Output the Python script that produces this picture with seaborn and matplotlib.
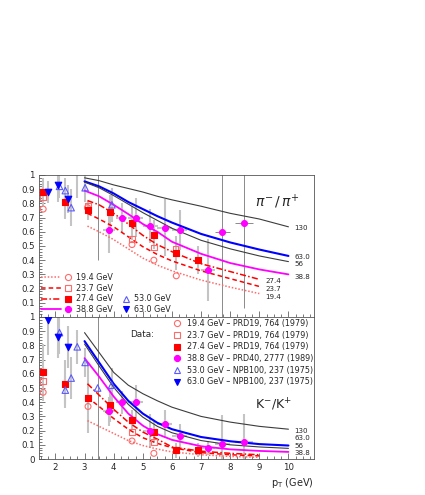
import matplotlib
matplotlib.use("Agg")
import matplotlib.pyplot as plt
from matplotlib.lines import Line2D
from matplotlib.legend_handler import HandlerBase
from matplotlib.ticker import MultipleLocator
import seaborn as sns

# ---------------- data ----------------
# theory curves
pt_hi = [3.0, 3.5, 4.0, 4.5, 5.0, 5.5, 6.0, 7.0, 8.0, 9.0, 10.0]
pt_lo = [3.1, 3.5, 4.0, 4.5, 5.0, 5.5, 6.0, 7.0, 8.0, 9.0]

pi_130 = [0.98, 0.96, 0.93, 0.905, 0.88, 0.85, 0.825, 0.78, 0.73, 0.69, 0.635]
pi_630 = [0.955, 0.92, 0.87, 0.81, 0.76, 0.71, 0.665, 0.585, 0.525, 0.475, 0.43]
pi_560 = [0.95, 0.91, 0.855, 0.795, 0.735, 0.68, 0.625, 0.54, 0.48, 0.43, 0.39]
pi_388 = [0.89, 0.85, 0.79, 0.725, 0.655, 0.6, 0.53, 0.445, 0.38, 0.335, 0.30]
pi_274 = [0.82, 0.79, 0.73, 0.655, 0.575, 0.51, 0.46, 0.375, 0.32, 0.265]
pi_237 = [0.73, 0.69, 0.635, 0.565, 0.495, 0.44, 0.395, 0.325, 0.27, 0.215]
pi_194 = [0.64, 0.60, 0.545, 0.48, 0.415, 0.365, 0.325, 0.26, 0.21, 0.165]

k_130 = [0.89, 0.75, 0.61, 0.52, 0.46, 0.41, 0.365, 0.30, 0.26, 0.23, 0.21]
k_630 = [0.83, 0.68, 0.53, 0.41, 0.32, 0.255, 0.21, 0.155, 0.125, 0.105, 0.095]
k_560 = [0.81, 0.655, 0.505, 0.385, 0.295, 0.23, 0.185, 0.13, 0.10, 0.085, 0.075]
k_388 = [0.71, 0.58, 0.44, 0.32, 0.235, 0.175, 0.135, 0.09, 0.068, 0.057, 0.05]
k_274 = [0.53, 0.45, 0.35, 0.26, 0.19, 0.14, 0.085, 0.055, 0.04, 0.03]
k_237 = [0.435, 0.37, 0.285, 0.21, 0.15, 0.11, 0.08, 0.045, 0.03, 0.022]
k_194 = [0.27, 0.23, 0.18, 0.13, 0.095, 0.07, 0.05, 0.03, 0.018, 0.012]

# measured ratios, pi-/pi+
pi194_x = [1.58, 3.10, 4.63, 5.38, 6.15]
pi194_y = [0.76, 0.77, 0.51, 0.40, 0.29]
pi237_x = [1.57, 3.12, 4.63, 5.38, 6.13]
pi237_y = [0.84, 0.78, 0.55, 0.49, 0.48]
pi274_x = [1.58, 2.34, 3.12, 3.87, 4.63, 5.38, 6.15, 6.91]
pi274_y = [0.88, 0.81, 0.75, 0.74, 0.66, 0.58, 0.45, 0.40]
pi274_e = [0.10, 0.12, 0.07, 0.12, 0.12, 0.10, 0.12, 0.10]
pi388_x = [3.84, 4.27, 4.75, 5.26, 5.75, 6.26, 7.24, 7.73, 8.48]
pi388_y = [0.61, 0.70, 0.70, 0.64, 0.63, 0.61, 0.33, 0.60, 0.66]
pi388_e = [0.16, 0.10, 0.14, 0.12, 0.20, 0.14, 0.22, 0.60, 0.60]
pi388_xe = [0.20, 0.20, 0.25, 0.25, 0.25, 0.25, 0.25, 0.25, 0.30]
pi530_x = [2.14, 2.34, 2.54, 2.75, 3.02, 3.45, 3.94]
pi530_y = [0.92, 0.89, 0.77, 1.04, 0.91, 1.10, 0.79]
pi530_e = [0.08, 0.09, 0.13, 0.20, 0.10, 0.70, 0.12]
pi630_x = [1.76, 2.10, 2.44]
pi630_y = [0.88, 0.93, 0.83]
pi630_e = [0.08, 0.12, 0.10]

# measured ratios, K-/K+
k194_x = [1.58, 3.12, 4.63, 5.38]
k194_y = [0.47, 0.37, 0.127, 0.04]
k237_x = [1.57, 4.63, 5.38]
k237_y = [0.55, 0.19, 0.12]
k274_x = [1.58, 2.34, 3.12, 3.87, 4.63, 5.38, 6.15, 6.91]
k274_y = [0.61, 0.53, 0.43, 0.38, 0.275, 0.19, 0.06, 0.063]
k274_e = [0.20, 0.17, 0.25, 0.12, 0.07, 0.08, 0.05, 0.05]
k388_x = [3.84, 4.27, 4.75, 5.26, 5.75, 6.26, 7.24, 7.73, 8.48]
k388_y = [0.335, 0.40, 0.40, 0.197, 0.245, 0.165, 0.08, 0.108, 0.117]
k388_e = [0.10, 0.08, 0.12, 0.12, 0.10, 0.08, 0.05, 0.20, 0.20]
k388_xe = [0.20, 0.20, 0.25, 0.25, 0.25, 0.25, 0.25, 0.25, 0.30]
k530_x = [2.14, 2.34, 2.54, 2.75, 3.02, 3.45, 3.93]
k530_y = [0.89, 0.485, 0.57, 0.79, 0.68, 0.50, 0.52]
k530_e = [0.15, 0.10, 0.15, 0.12, 0.10, 0.60, 0.12]
k630_x = [1.76, 2.10, 2.44]
k630_y = [0.98, 0.86, 0.79]
k630_e = [0.25, 0.15, 0.15]

energies = ["19.4", "23.7", "27.4", "38.8", "53.0", "63.0"]
refs = ["PRD19, 764 (1979)", "PRD19, 764 (1979)", "PRD19, 764 (1979)",
        "PRD40, 2777 (1989)", "NPB100, 237 (1975)", "NPB100, 237 (1975)"]
curve_names_hi = ["130", "63.0", "56", "38.8"]
curve_names_lo = ["27.4", "23.7", "19.4"]
# heights of the curve labels beside the line ends
pi_label_hi_y = [0.625, 0.425, 0.37, 0.282]
pi_label_lo_y = [0.25, 0.196, 0.143]
k_label_hi_y = [0.20, 0.148, 0.094, 0.04]
top_ylabels = ["0.1", "0.2", "0.3", "0.4", "0.5", "0.6", "0.7", "0.8", "0.9", "1"]
bot_ylabels = ["0", "0.1", "0.2", "0.3", "0.4", "0.5", "0.6", "0.7", "0.8", "0.9", "1"]
xlabels = ["2", "3", "4", "5", "6", "7", "8", "9", "10"]

# ---------------- style ----------------
sns.set_style("ticks")
plt.rcParams["font.family"] = ["DejaVu Sans"]
FS = 5.8
FS_CURVE = 5.1

RED = "#ff0000"
PINK = "#ff6a6a"
MAG = "#ff00ff"
BLUE = "#0000ff"
LBLUE = "#5a5aff"
DARK = "#3c3c3c"

curve_style = {
    "130": dict(color=DARK, lw=0.8, linestyle="-"),
    "63.0": dict(color=BLUE, lw=1.5, linestyle="-"),
    "56": dict(color=DARK, lw=0.8, linestyle="-"),
    "38.8": dict(color=MAG, lw=1.3, linestyle="-"),
    "27.4": dict(color=RED, lw=1.1, linestyle=(0, (4, 1.5, 1, 1.5))),
    "23.7": dict(color=RED, lw=1.1, linestyle=(0, (3, 2))),
    "19.4": dict(color=PINK, lw=1.1, linestyle=(0, (1, 1.2))),
}
mark_style = {
    "19.4": dict(marker="o", face="none", edge=PINK, s=18),
    "23.7": dict(marker="s", face="none", edge=PINK, s=16),
    "27.4": dict(marker="s", face=RED, edge=RED, s=16),
    "38.8": dict(marker="o", face=MAG, edge=MAG, s=18),
    "53.0": dict(marker="^", face="none", edge=LBLUE, s=22),
    "63.0": dict(marker="v", face=BLUE, edge=BLUE, s=22),
}

fig = plt.figure(figsize=(4.25, 4.95), dpi=100)
ax_top = fig.add_axes([0.092, 0.3596, 0.647, 0.2869])
ax_bot = fig.add_axes([0.092, 0.0727, 0.647, 0.2869])


def draw_curves(ax, hi, lo):
    for name, vals in zip(curve_names_hi, hi):
        sns.lineplot(x=pt_hi, y=vals, ax=ax, sort=False, estimator=None,
                     zorder=3, **curve_style[name])
    for name, vals in zip(curve_names_lo, lo):
        sns.lineplot(x=pt_lo, y=vals, ax=ax, sort=False, estimator=None,
                     zorder=3, **curve_style[name])


def draw_errors(ax, x, y, e, xe=None):
    for i in range(len(x)):
        big = e[i] >= 0.4
        ax.errorbar([x[i]], [y[i]], yerr=[e[i]],
                    xerr=None if xe is None else [xe[i]],
                    fmt="none", capsize=0, zorder=2,
                    ecolor="#8a8a8a" if big else "#c4c4c4",
                    elinewidth=0.7 if big else 1.5)


def draw_points(ax, x, y, key):
    st = mark_style[key]
    sns.scatterplot(x=x, y=y, ax=ax, marker=st["marker"], s=st["s"],
                    color=st["edge"], facecolor=st["face"],
                    edgecolor=st["edge"], linewidth=0.8, zorder=5)


# ---------------- top: pi-/pi+ ----------------
draw_curves(ax_top, [pi_130, pi_630, pi_560, pi_388], [pi_274, pi_237, pi_194])
draw_errors(ax_top, pi274_x, pi274_y, pi274_e)
draw_errors(ax_top, pi388_x, pi388_y, pi388_e, pi388_xe)
draw_errors(ax_top, pi530_x, pi530_y, pi530_e)
draw_errors(ax_top, pi630_x, pi630_y, pi630_e)
draw_points(ax_top, pi194_x, pi194_y, "19.4")
draw_points(ax_top, pi237_x, pi237_y, "23.7")
draw_points(ax_top, pi274_x, pi274_y, "27.4")
draw_points(ax_top, pi388_x, pi388_y, "38.8")
draw_points(ax_top, pi530_x, pi530_y, "53.0")
draw_points(ax_top, pi630_x, pi630_y, "63.0")

# ---------------- bottom: K-/K+ ----------------
draw_curves(ax_bot, [k_130, k_630, k_560, k_388], [k_274, k_237, k_194])
draw_errors(ax_bot, k274_x, k274_y, k274_e)
draw_errors(ax_bot, k388_x, k388_y, k388_e, k388_xe)
draw_errors(ax_bot, k530_x, k530_y, k530_e)
draw_errors(ax_bot, k630_x, k630_y, k630_e)
draw_points(ax_bot, k194_x, k194_y, "19.4")
draw_points(ax_bot, k237_x, k237_y, "23.7")
draw_points(ax_bot, k274_x, k274_y, "27.4")
draw_points(ax_bot, k388_x, k388_y, "38.8")
draw_points(ax_bot, k530_x, k530_y, "53.0")
draw_points(ax_bot, k630_x, k630_y, "63.0")

# curve labels beside the line ends
for name, yv in zip(curve_names_hi, pi_label_hi_y):
    ax_top.text(pt_hi[-1] + 0.2, yv, name, fontsize=FS_CURVE, va="center", ha="left")
for name, yv in zip(curve_names_lo, pi_label_lo_y):
    ax_top.text(pt_lo[-1] + 0.2, yv, name, fontsize=FS_CURVE, va="center", ha="left")
for name, yv in zip(curve_names_hi, k_label_hi_y):
    ax_bot.text(pt_hi[-1] + 0.2, yv, name, fontsize=FS_CURVE, va="center", ha="left")

ax_top.text(8.85, 0.81, r"$\pi^{-}\,/\,\pi^{+}$", fontsize=10, va="center")
ax_bot.text(8.85, 0.38, r"K$^{-}$/K$^{+}$", fontsize=9, va="center")
ax_bot.text(4.55, 0.88, "Data:", fontsize=FS + 0.6, va="center")


# ---------------- legends ----------------
class LineThenMarker(HandlerBase):
    def create_artists(self, legend, orig_handle, xdescent, ydescent,
                       width, height, fontsize, trans):
        src_line, src_mark = orig_handle
        y = height / 2 - ydescent
        line = Line2D([-xdescent, -xdescent + 0.62 * width], [y, y])
        line.update_from(src_line)
        line.set_marker("None")
        mark = Line2D([-xdescent + 0.87 * width], [y])
        mark.update_from(src_mark)
        mark.set_linestyle("None")
        line.set_transform(trans)
        mark.set_transform(trans)
        return [line, mark]


def marker_proxy(key):
    st = mark_style[key]
    return Line2D([], [], ls="None", marker=st["marker"], ms=4.4,
                  mfc=st["face"], mec=st["edge"], mew=0.8)


def line_proxy(key):
    cs = curve_style[key]
    return Line2D([], [], color=cs["color"], lw=cs["lw"], linestyle=cs["linestyle"])


leg1 = ax_top.legend([(line_proxy(k), marker_proxy(k)) for k in energies[:4]],
                     [f"{k} GeV" for k in energies[:4]],
                     handler_map={tuple: LineThenMarker()},
                     loc="lower left", bbox_to_anchor=(0.008, 0.02),
                     frameon=False, fontsize=FS, handlelength=3.85,
                     handletextpad=0.5, labelspacing=0.22, borderpad=0,
                     borderaxespad=0)
ax_top.add_artist(leg1)
ax_top.legend([marker_proxy(k) for k in energies[4:]],
              [f"{k} GeV" for k in energies[4:]],
              loc="lower left", bbox_to_anchor=(0.305, 0.02),
              frameon=False, fontsize=FS, handlelength=0.8,
              handletextpad=0.55, labelspacing=0.22, borderpad=0,
              borderaxespad=0)

ax_bot.legend([marker_proxy(k) for k in energies],
              [f"{k} GeV \u2013 {r}" for k, r in zip(energies, refs)],
              loc="upper right", bbox_to_anchor=(0.998, 0.985),
              frameon=False, fontsize=FS, handlelength=0.8,
              handletextpad=0.9, labelspacing=0.33, borderpad=0,
              borderaxespad=0)

# ---------------- axes ----------------
for ax in (ax_top, ax_bot):
    ax.set_xlim(1.44, 10.88)
    ax.set_ylim(0, 1)
    ax.xaxis.set_major_locator(MultipleLocator(1))
    ax.xaxis.set_minor_locator(MultipleLocator(0.25))
    ax.yaxis.set_minor_locator(MultipleLocator(0.02))
    ax.tick_params(which="both", direction="in", top=False, right=False,
                   labelsize=FS + 0.4, width=0.5, color="#444444", pad=3)
    ax.tick_params(which="major", length=4)
    ax.tick_params(which="minor", length=2)
    for sp in ax.spines.values():
        sp.set_linewidth(0.6)
        sp.set_color("#555555")
    ax.set_xlabel("")
    ax.set_ylabel("")

ax_top.set_yticks([float(t) for t in top_ylabels], top_ylabels)
ax_top.tick_params(axis="x", labelbottom=False)
ax_bot.set_yticks([float(t) for t in bot_ylabels], bot_ylabels)
ax_bot.set_xticks([float(t) for t in xlabels], xlabels)
ax_bot.set_xlabel(r"p$_{\rm T}$ (GeV)", fontsize=FS + 1.2, loc="right", labelpad=3)

fig.savefig("out.png", dpi=100)
